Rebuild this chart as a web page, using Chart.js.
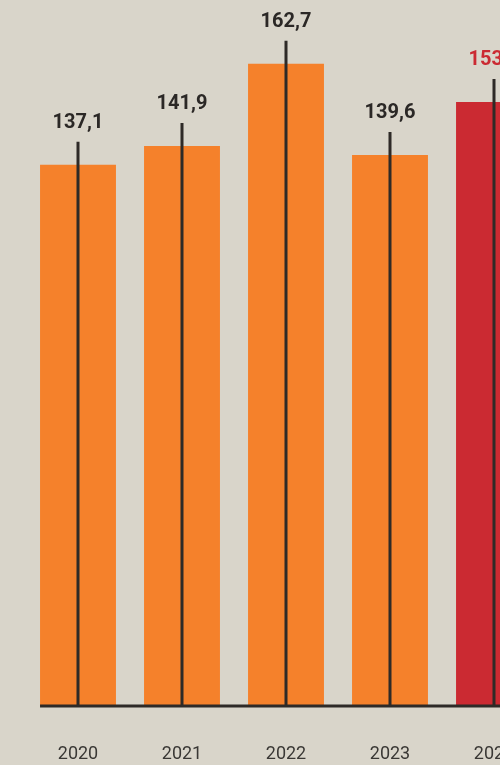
<!DOCTYPE html>
<html>
<head>
<meta charset="utf-8">
<script src="https://cdn.jsdelivr.net/npm/chart.js@4.4.1/dist/chart.umd.min.js"></script>
<style>
  html, body { margin: 0; padding: 0; width: 500px; height: 765px; overflow: hidden; background: #d9d5ca; }
  #wrap { position: relative; width: 560px; height: 765px; }
</style>
</head>
<body>
<div id="wrap"><canvas id="c" width="560" height="765"></canvas></div>
<script>
const anos = ['2020', '2021', '2022', '2023', '2024'];
const valores = [137.1, 141.9, 162.7, 139.6, 153.0];
const rotulos = ['137,1', '141,9', '162,7', '139,6', '153,0'];
const coresBarra = ['#f5812b', '#f5812b', '#f5812b', '#f5812b', '#cb2a32'];
const coresRotulo = ['#2b2826', '#2b2826', '#2b2826', '#2b2826', '#cb2a32'];

const TINTA = '#2e2a27';

// Haste vertical + valor por cima de cada barra, e linha de base.
const hastes = {
    id: 'hastes',
    afterDatasetsDraw(chart) {
        const ctx = chart.ctx;
        const meta = chart.getDatasetMeta(0);
        const base = chart.scales.y.getPixelForValue(0);
        ctx.save();
        meta.data.forEach((bar, i) => {
            const topo = bar.y - 23;
            ctx.strokeStyle = TINTA;
            ctx.lineWidth = 3;
            ctx.beginPath();
            ctx.moveTo(bar.x, base);
            ctx.lineTo(bar.x, topo);
            ctx.stroke();

            ctx.fillStyle = coresRotulo[i];
            ctx.font = 'bold 20px Roboto, sans-serif';
            ctx.textAlign = 'center';
            ctx.textBaseline = 'alphabetic';
            ctx.fillText(rotulos[i], bar.x, topo - 14);
        });
        // linha de base a partir da primeira barra
        const primeira = meta.data[0];
        ctx.strokeStyle = TINTA;
        ctx.lineWidth = 3;
        ctx.beginPath();
        ctx.moveTo(primeira.x - primeira.width / 2, base);
        ctx.lineTo(chart.width, base);
        ctx.stroke();
        ctx.restore();
    },
};

new Chart(document.getElementById('c'), {
    type: 'bar',
    data: {
        labels: anos,
        datasets: [{
            data: valores,
            backgroundColor: coresBarra,
            borderWidth: 0,
            categoryPercentage: 1,
            barPercentage: 0.73,
        }],
    },
    options: {
        responsive: false,
        animation: false,
        layout: { padding: { left: 26, right: 14, top: 35, bottom: 0 } },
        plugins: { legend: { display: false }, tooltip: { enabled: false } },
        scales: {
            x: {
                grid: { display: false, drawTicks: false },
                border: { display: false },
                ticks: {
                    color: '#3a3835',
                    font: { family: 'Roboto, sans-serif', size: 18 },
                    padding: 38,
                    maxRotation: 0,
                },
                afterFit: (scale) => { scale.height = 59; },
            },
            y: {
                display: false,
                min: 0,
                max: 170,
            },
        },
    },
    plugins: [hastes],
});
</script>
</body>
</html>
